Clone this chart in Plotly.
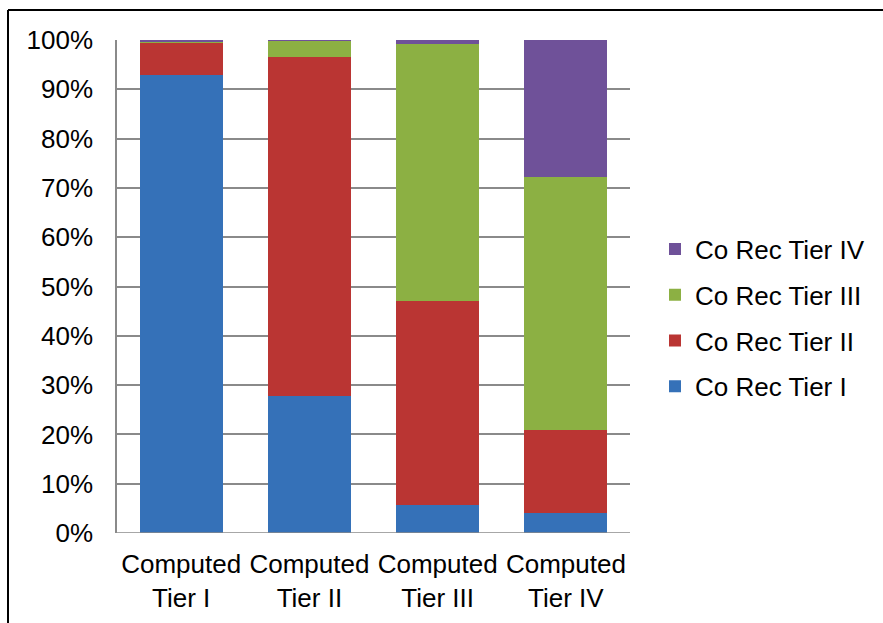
import plotly.graph_objects as go

# Share of each co-recommended tier within each computed tier (percent)
categories = ["Computed<br>Tier I", "Computed<br>Tier II", "Computed<br>Tier III", "Computed<br>Tier IV"]
tier1 = [92.9, 27.8, 5.7, 4.1]
tier2 = [6.5, 68.8, 41.4, 16.8]
tier3 = [0.3, 3.2, 52.1, 51.3]
tier4 = [0.3, 0.2, 0.8, 27.8]

series = [
    ("Co Rec Tier I", tier1, "#3571B8"),
    ("Co Rec Tier II", tier2, "#BA3533"),
    ("Co Rec Tier III", tier3, "#8CB043"),
    ("Co Rec Tier IV", tier4, "#6F5199"),
]

fig = go.Figure()
for i, (name, vals, color) in enumerate(series):
    fig.add_trace(go.Bar(
        x=categories,
        y=[v / 100 for v in vals],
        name=name,
        legendgroup=f"g{i}",
        legendrank=1000 - i,  # top tier listed first
        marker=dict(color=color, line=dict(width=0)),
    ))

W, H = 883, 623
ml, mr, mt, mb = 117, 253, 40, 90
pw, ph = W - ml - mr, H - mt - mb

def px_x(p):
    return (p - ml) / pw

def px_y(p):
    return (H - mb - p) / ph

font = "Liberation Sans, Arial, sans-serif"
grid = "#8a8a8a"

fig.update_layout(
    width=W, height=H,
    margin=dict(l=ml, r=mr, t=mt, b=mb),
    barmode="stack",
    bargap=0.353,
    plot_bgcolor="white",
    paper_bgcolor="white",
    font=dict(family=font, size=26, color="black"),
    showlegend=True,
    legend=dict(
        traceorder="grouped",
        x=px_x(655), xanchor="left",
        y=px_y(318), yanchor="middle",
        font=dict(size=26),
        tracegroupgap=9,
        itemwidth=30,
    ),
    xaxis=dict(
        showgrid=False,
        showline=False,
        automargin=False,
        ticks="outside", ticklen=8, tickcolor="rgba(0,0,0,0)",
        tickfont=dict(size=26),
    ),
    yaxis=dict(
        range=[0, 1],
        dtick=0.1,
        tickformat=".0%",
        automargin=False,
        showgrid=True, gridcolor=grid, gridwidth=1.5,
        zeroline=False,
        showline=True, linecolor=grid, linewidth=1.5,
        ticks="outside", ticklen=17, tickcolor="rgba(0,0,0,0)",
        tickfont=dict(size=26),
    ),
    shapes=[
        # outer frame (left and top edges)
        dict(type="line", xref="paper", yref="paper",
             x0=px_x(8), x1=px_x(8), y0=px_y(700), y1=px_y(10),
             line=dict(color="black", width=2)),
        dict(type="line", xref="paper", yref="paper",
             x0=px_x(8), x1=px_x(900), y0=px_y(10), y1=px_y(10),
             line=dict(color="black", width=2)),
        # baseline at 0%
        dict(type="line", xref="paper", yref="y",
             x0=0, x1=1, y0=0, y1=0,
             line=dict(color=grid, width=1.5)),
    ],
)

fig.write_html("out.html")
